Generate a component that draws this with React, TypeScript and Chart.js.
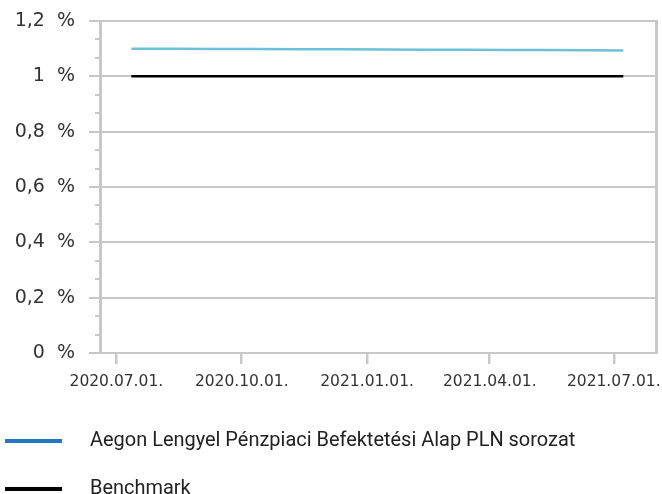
import React, { useEffect, useRef } from "react";
import { Chart, registerables } from "chart.js";

Chart.register(...registerables);

// ---- data ----
const dates = [
  "2020-07-12", "2020-08-12", "2020-09-12", "2020-10-12", "2020-11-12", "2020-12-12",
  "2021-01-12", "2021-02-12", "2021-03-12", "2021-04-12", "2021-05-12", "2021-06-12", "2021-07-08",
];
const fundValues = [1.1, 1.0995, 1.099, 1.0985, 1.098, 1.0975, 1.097, 1.0965, 1.096, 1.0955, 1.095, 1.094, 1.093];
const benchmarkValues = [1.0, 1.0, 1.0, 1.0, 1.0, 1.0, 1.0, 1.0, 1.0, 1.0, 1.0, 1.0, 1.0];
const seriesNames = ["Aegon Lengyel Pénzpiaci Befektetési Alap PLN sorozat", "Benchmark"];
const seriesColors = ["#6cc0d8", "#000000"];
const legendColors = ["#1f78c0", "#000000"];
const xTickDates = ["2020-07-01", "2020-10-01", "2021-01-01", "2021-04-01", "2021-07-01"];
const xTickLabels = ["2020.07.01.", "2020.10.01.", "2021.01.01.", "2021.04.01.", "2021.07.01."];
const xRange = ["2020-06-19", "2021-08-01"];
const yTickValues = [0, 0.2, 0.4, 0.6, 0.8, 1.0, 1.2];
const yTickLabels = ["0  %", "0,2  %", "0,4  %", "0,6  %", "0,8  %", "1  %", "1,2  %"];

const DAY = 86400000;
const toDay = (s: string) => Date.parse(s + "T00:00:00Z") / DAY;

const GRID = "#c8c8c8";

const framePlugin = {
  id: "frame",
  afterDraw(chart: any) {
    const { ctx, chartArea } = chart;
    const y = chart.scales.y;
    ctx.save();
    ctx.strokeStyle = GRID;
    // right border
    ctx.lineWidth = 3;
    ctx.beginPath();
    ctx.moveTo(chartArea.right + 0.5, chartArea.top - 1);
    ctx.lineTo(chartArea.right + 0.5, chartArea.bottom + 1);
    ctx.stroke();
    // minor ticks
    ctx.lineWidth = 2;
    for (let i = 0; i < yTickValues.length - 1; i++) {
      const a = yTickValues[i];
      const b = yTickValues[i + 1];
      for (let k = 1; k < 3; k++) {
        const v = a + ((b - a) * k) / 3;
        const py = Math.round(y.getPixelForValue(v));
        ctx.beginPath();
        ctx.moveTo(chartArea.left - 5, py);
        ctx.lineTo(chartArea.left, py);
        ctx.stroke();
      }
    }
    ctx.restore();
  },
};

export default function App() {
  const ref = useRef<HTMLCanvasElement | null>(null);

  useEffect(() => {
    if (!ref.current) return;
    const xs = dates.map(toDay);
    const chart = new Chart(ref.current, {
      type: "line",
      data: {
        datasets: [
          {
            label: seriesNames[0],
            data: xs.map((x, i) => ({ x, y: fundValues[i] })),
            borderColor: seriesColors[0],
            borderWidth: 2.5,
            pointRadius: 0,
            tension: 0,
          },
          {
            label: seriesNames[1],
            data: xs.map((x, i) => ({ x, y: benchmarkValues[i] })),
            borderColor: seriesColors[1],
            borderWidth: 2.5,
            pointRadius: 0,
            tension: 0,
          },
        ],
      },
      options: {
        responsive: false,
        animation: false,
        layout: { padding: { top: 21, right: 6, left: 0, bottom: 0 } },
        plugins: { legend: { display: false }, tooltip: { enabled: false } },
        scales: {
          x: {
            type: "linear",
            min: toDay(xRange[0]),
            max: toDay(xRange[1]),
            afterBuildTicks: (scale: any) => {
              scale.ticks = xTickDates.map((d) => ({ value: toDay(d) }));
            },
            afterFit: (scale: any) => {
              scale.height = 494 - 353;
              scale.paddingLeft = 0;
              scale.paddingRight = 0;
            },
            ticks: {
              autoSkip: false,
              maxRotation: 0,
              padding: 9,
              color: "#333333",
              font: { family: "DejaVu Sans", size: 15.5 },
              callback: (_v: any, i: number) => xTickLabels[i],
            },
            grid: {
              drawOnChartArea: false,
              drawTicks: true,
              tickLength: 11,
              color: GRID,
              lineWidth: 2.5,
            },
            border: { display: true, color: GRID, width: 2 },
          },
          y: {
            min: 0,
            max: 1.2,
            afterBuildTicks: (scale: any) => {
              scale.ticks = yTickValues.map((v) => ({ value: v }));
            },
            afterFit: (scale: any) => {
              scale.width = 100;
              scale.paddingTop = 0;
              scale.paddingBottom = 0;
            },
            ticks: {
              padding: 14,
              color: "#333333",
              font: { family: "DejaVu Sans", size: 19 },
              callback: (_v: any, i: number) => yTickLabels[i],
            },
            grid: {
              color: GRID,
              lineWidth: 2,
              tickLength: 11,
            },
            border: { display: true, color: GRID, width: 3 },
          },
        },
      },
      plugins: [framePlugin],
    } as any);
    return () => chart.destroy();
  }, []);

  const legendY = [441, 489];

  return (
    <div style={{ position: "absolute", left: 0, top: 0, width: 662, height: 494, overflow: "hidden", background: "#fff" }}>
      <canvas ref={ref} width={662} height={494} style={{ position: "absolute", left: 0, top: 0 }} />
      {seriesNames.map((name, i) => (
        <React.Fragment key={name}>
          <div
            style={{
              position: "absolute",
              left: 5,
              top: legendY[i] - 2,
              width: 57,
              height: 4,
              background: legendColors[i],
            }}
          />
          <div
            style={{
              position: "absolute",
              left: 90,
              top: legendY[i] - 14,
              height: 24,
              lineHeight: "24px",
              fontFamily: "Roboto",
              fontSize: 21,
              color: "#222222",
              whiteSpace: "nowrap",
              transform: "scaleX(0.95)",
              transformOrigin: "left center",
            }}
          >
            {name}
          </div>
        </React.Fragment>
      ))}
    </div>
  );
}
